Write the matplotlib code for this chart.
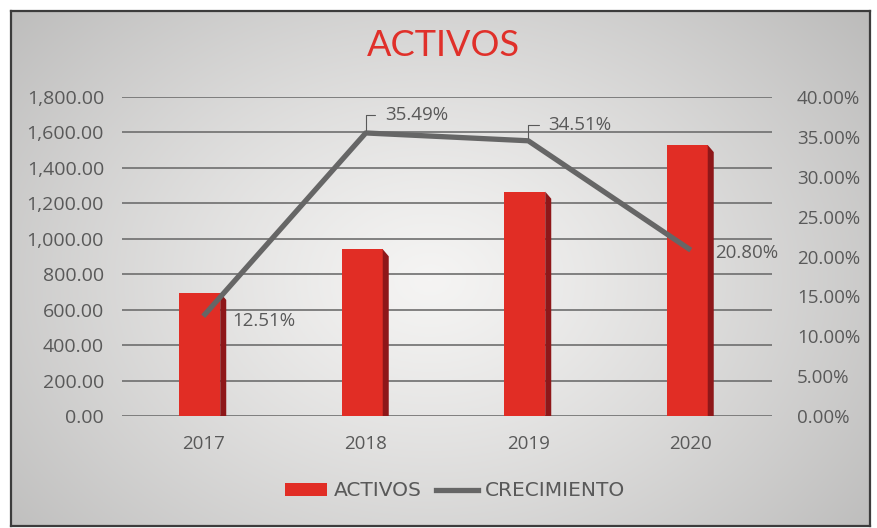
import numpy as np
import matplotlib
matplotlib.use("Agg")
import matplotlib.pyplot as plt
from matplotlib.patches import Patch, Polygon
from matplotlib.lines import Line2D

# data
years = ["2017", "2018", "2019", "2020"]
activos = [695, 941, 1266, 1529]
crecimiento = [12.51, 35.49, 34.51, 20.80]
left_ticks = list(range(0, 2000, 200))
right_ticks = list(range(0, 45, 5))

RED = "#e12d25"
RED_SIDE = "#8e1719"
LINE_GRAY = "#666666"
TEXT_GRAY = "#595959"
W, H = 878, 528

fig = plt.figure(figsize=(W / 100, H / 100), dpi=100)
fig.patch.set_facecolor("white")

# background panel with radial gradient and dark frame
bg = fig.add_axes([11 / W, 2 / H, 859 / W, 515 / H])
xx, yy = np.meshgrid(np.linspace(11, 870, 400), np.linspace(11, 526, 240))
r = np.hypot((xx - 430) / 560, (yy - 280) / 420)
t = np.clip(r, 0, 1) ** 1.2
light, dark = 0.96, 0.74
g = light - (light - dark) * t
img = np.dstack([g, g * 0.997, g * 0.993])
bg.imshow(img, extent=[0, 1, 0, 1], aspect="auto", origin="upper")
bg.set_xticks([])
bg.set_yticks([])
for s in bg.spines.values():
    s.set_color("#3c3c3c")
    s.set_linewidth(1.6)

ax = fig.add_axes([122 / W, 1 - 416 / H, 650 / W, 319 / H])
ax.set_facecolor("none")
ax2 = ax.twinx()

x = np.arange(len(years))
bar_w = 0.252
shift = -0.0215
side_w = 0.037
side_drop = 40

ax.bar(x + shift, activos, width=bar_w, color=RED, zorder=3)
for xi, v in zip(x, activos):
    xr = xi + shift + bar_w / 2
    ax.add_patch(Polygon([(xr, v), (xr + side_w, v - side_drop), (xr + side_w, 0), (xr, 0)],
                         closed=True, color=RED_SIDE, zorder=3, lw=0))

ax.set_xlim(-0.5, 3.5)
ax.set_ylim(0, 1800)
ax.set_yticks(left_ticks)
ax.set_yticklabels([f"{v:,.2f}" for v in left_ticks])
ax.set_xticks(x)
ax.set_xticklabels(years)
ax.grid(axis="y", color="#6e6e6e", lw=1.2, zorder=0)
ax.set_axisbelow(True)
ax.tick_params(axis="y", length=0, pad=13, labelsize=14, labelcolor=TEXT_GRAY)
ax.tick_params(axis="x", length=0, pad=14, labelsize=13.5, labelcolor=TEXT_GRAY)
for s in ax.spines.values():
    s.set_visible(False)

ax2.plot(x, crecimiento, color=LINE_GRAY, lw=3.8, zorder=4, solid_capstyle="butt")
ax2.set_ylim(0, 40)
ax2.set_yticks(right_ticks)
ax2.set_yticklabels([f"{v:.2f}%" for v in right_ticks])
ax2.tick_params(axis="y", length=0, pad=18, labelsize=13.5, labelcolor=TEXT_GRAY)
for s in ax2.spines.values():
    s.set_visible(False)

for lab in ax.get_yticklabels() + ax.get_xticklabels() + ax2.get_yticklabels():
    lab.set_family("Open Sans")

# data labels
offsets = [(29, -5, False), (19, 18, True), (20, 16, True), (24, -3, False)]
for xi, v, (dx, dy, leader) in zip(x, crecimiento, offsets):
    kw = dict(xy=(xi, v), xytext=(dx, dy), textcoords="offset pixels",
              ha="left", va="center", fontsize=13.5, color=TEXT_GRAY,
              family="Open Sans", zorder=6)
    if leader:
        kw["arrowprops"] = dict(arrowstyle="-", color="#595959", lw=0.8,
                                connectionstyle="angle,angleA=0,angleB=90,rad=0",
                                relpos=(0, 0.5), shrinkA=5, shrinkB=2)
    ax2.annotate(f"{v:.2f}%", **kw)

fig.text(443 / W, 1 - 46 / H, "ACTIVOS", ha="center", va="center",
         fontsize=26, color="#e0302a", family="Lato", fontweight="normal")

handles = [Patch(facecolor=RED, edgecolor="none"),
           Line2D([0], [0], color=LINE_GRAY, lw=3.8)]
fig.legend(handles, ["ACTIVOS", "CRECIMIENTO"], loc="center",
           bbox_to_anchor=(455 / W, 1 - 491 / H), ncol=2, frameon=False,
           prop={"family": "DejaVu Sans", "size": 14.5}, labelcolor=TEXT_GRAY,
           handlelength=2.1, handleheight=0.6, handletextpad=0.35, columnspacing=0.7)

fig.savefig("out.png", dpi=100)
